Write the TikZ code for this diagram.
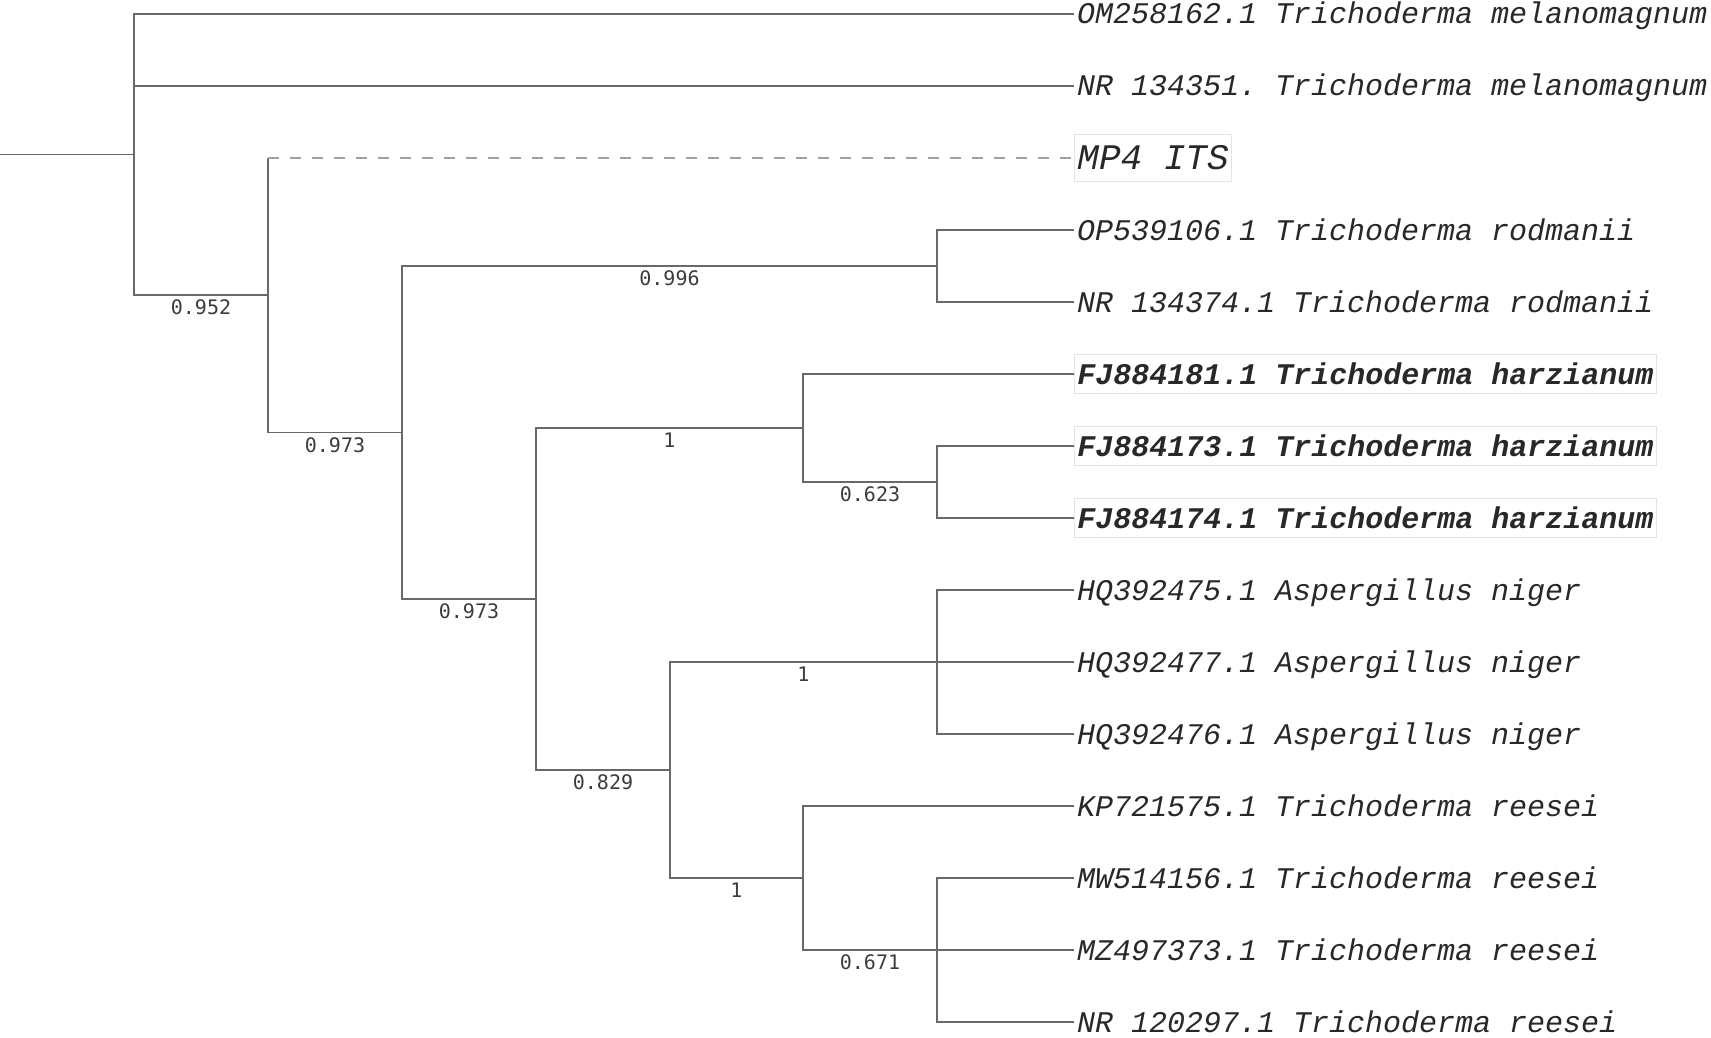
\documentclass[tikz,border=0pt]{standalone}
\usepackage{fontspec}
\newfontfamily\leaffont{Liberation Mono}
\newfontfamily\bootfont{DejaVu Sans Mono}
\definecolor{linegray}{RGB}{105,105,105}
\definecolor{dashgray}{RGB}{160,160,160}
\definecolor{leaftext}{RGB}{40,40,40}
\definecolor{boottext}{RGB}{60,60,60}
\definecolor{boxgray}{RGB}{228,228,228}
\tikzset{
  branch/.style={draw=linegray, line width=1.6pt},
  dashbranch/.style={draw=dashgray, line width=1.6pt, dash pattern=on 11pt off 11pt},
  leaf/.style={anchor=west, inner xsep=3pt, inner ysep=0pt, text=leaftext,
    font=\frenchspacing\leaffont\itshape\fontsize{30}{36}\selectfont, text height=20pt, text depth=0pt},
  hleaf/.style={leaf, font=\frenchspacing\leaffont\bfseries\itshape\fontsize{30}{36}\selectfont,
    draw=boxgray, line width=0.8pt, inner ysep=9.5pt},
  mpleaf/.style={leaf, font=\frenchspacing\leaffont\itshape\fontsize{36}{42}\selectfont,
    text height=24pt, draw=boxgray, line width=0.8pt, inner ysep=11.5pt},
  boot/.style={anchor=north, yshift=-4pt, inner sep=0pt, text=boottext,
    font=\bootfont\fontsize{20}{24}\selectfont}
}
\begin{document}
\begin{tikzpicture}[x=1pt,y=-1pt]
\useasboundingbox (0,0) rectangle (1711,1038);
% internal nodes
\coordinate (root) at (0,154.6);
\coordinate (A) at (134,154.6);
\coordinate (B) at (268,295.25);
\coordinate (C) at (402,432.5);
\coordinate (R) at (937,266);
\coordinate (D) at (536,599);
\coordinate (E) at (803,428);
\coordinate (F) at (937,482);
\coordinate (G) at (670,770);
\coordinate (H) at (937,662);
\coordinate (I) at (803,878);
\coordinate (J) at (937,950);
% leaves
\node[leaf]   (T1)  at (1074,14)   {OM258162.1 Trichoderma melanomagnum};
\node[leaf]   (T2)  at (1074,86)   {NR 134351. Trichoderma melanomagnum};
\node[mpleaf] (T3)  at (1074,158)  {MP4 ITS};
\node[leaf]   (T4)  at (1074,230)  {OP539106.1 Trichoderma rodmanii};
\node[leaf]   (T5)  at (1074,302)  {NR 134374.1 Trichoderma rodmanii};
\node[hleaf]  (T6)  at (1074,374)  {FJ884181.1 Trichoderma harzianum};
\node[hleaf]  (T7)  at (1074,446)  {FJ884173.1 Trichoderma harzianum};
\node[hleaf]  (T8)  at (1074,518)  {FJ884174.1 Trichoderma harzianum};
\node[leaf]   (T9)  at (1074,590)  {HQ392475.1 Aspergillus niger};
\node[leaf]   (T10) at (1074,662)  {HQ392477.1 Aspergillus niger};
\node[leaf]   (T11) at (1074,734)  {HQ392476.1 Aspergillus niger};
\node[leaf]   (T12) at (1074,806)  {KP721575.1 Trichoderma reesei};
\node[leaf]   (T13) at (1074,878)  {MW514156.1 Trichoderma reesei};
\node[leaf]   (T14) at (1074,950)  {MZ497373.1 Trichoderma reesei};
\node[leaf]   (T15) at (1074,1022) {NR 120297.1 Trichoderma reesei};
% branches
\draw[branch] (root) -- (A);
\draw[branch] (A) |- (T1.west);
\draw[branch] (A) |- (T2.west);
\draw[branch] (A) |- node[boot,pos=0.75] {0.952} (B);
\draw[branch] (B) -- (B |- T3.west);
\draw[dashbranch] (B |- T3.west) -- (T3.west);
\draw[branch] (B) |- node[boot,pos=0.75] {0.973} (C);
\draw[branch] (C) |- node[boot,pos=0.75] {0.996} (R);
\draw[branch] (R) |- (T4.west);
\draw[branch] (R) |- (T5.west);
\draw[branch] (C) |- node[boot,pos=0.75] {0.973} (D);
\draw[branch] (D) |- node[boot,pos=0.75] {1} (E);
\draw[branch] (E) |- (T6.west);
\draw[branch] (E) |- node[boot,pos=0.75] {0.623} (F);
\draw[branch] (F) |- (T7.west);
\draw[branch] (F) |- (T8.west);
\draw[branch] (D) |- node[boot,pos=0.75] {0.829} (G);
\draw[branch] (G) |- node[boot,pos=0.75] {1} (H);
\draw[branch] (H) |- (T9.west);
\draw[branch] (H) |- (T10.west);
\draw[branch] (H) |- (T11.west);
\draw[branch] (G) |- node[boot,pos=0.75] {1} (I);
\draw[branch] (I) |- (T12.west);
\draw[branch] (I) |- node[boot,pos=0.75] {0.671} (J);
\draw[branch] (J) |- (T13.west);
\draw[branch] (J) |- (T14.west);
\draw[branch] (J) |- (T15.west);
\end{tikzpicture}
\end{document}
